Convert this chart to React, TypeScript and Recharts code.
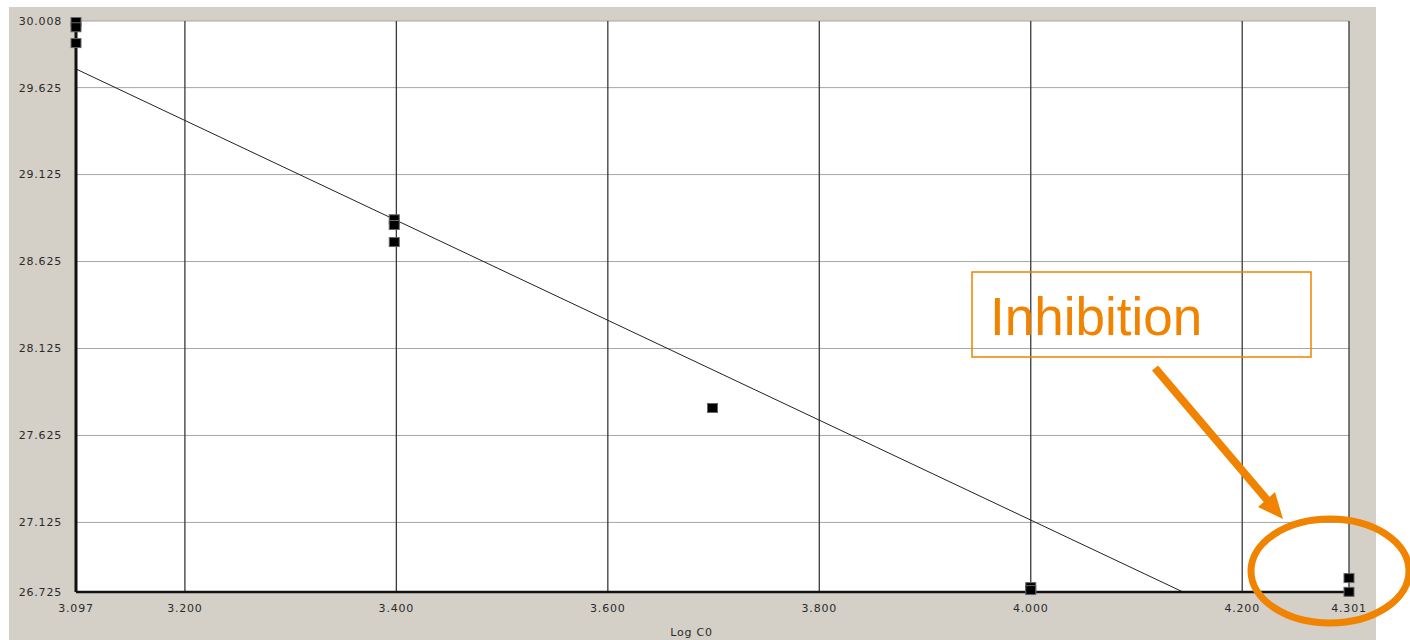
import React from "react";
import {
  ScatterChart,
  Scatter,
  XAxis,
  YAxis,
  CartesianGrid,
  ReferenceLine,
  Label,
} from "recharts";

// ---- data ----
const logC0 = [3.097, 3.097, 3.097, 3.398, 3.398, 3.398, 3.699, 4.0, 4.0, 4.301, 4.301];
const ctValues = [30.002, 29.972, 29.881, 28.868, 28.835, 28.737, 27.783, 26.753, 26.736, 26.805, 26.726];

// fitted standard curve, start and end (clipped at the bottom of the axis)
const fitX = [3.097, 4.144];
const fitY = [29.732, 26.725];

const xTicks = [3.097, 3.2, 3.4, 3.6, 3.8, 4.0, 4.2, 4.301];
const yTicks = [30.008, 29.625, 29.125, 28.625, 28.125, 27.625, 27.125, 26.725];

const points = logC0.map((x, i) => ({ x, y: ctValues[i] }));

const ORANGE = "#f08300";
const PANEL = "#d4d0c8";

const tickStyle = {
  fill: "#2a2a2a",
  fontSize: 11,
  fontFamily: "DejaVu Sans",
  letterSpacing: 0.8,
};

// small black square marker
const SquareDot = (props: any) => {
  const { cx, cy } = props;
  if (cx == null || cy == null) return null;
  return <rect x={cx - 5} y={cy - 4.5} width={10} height={9} fill="#000" stroke="#666" strokeWidth={1} />;
};

const App: React.FC = () => {
  return (
    <div style={{ position: "absolute", left: 0, top: 0, width: 1410, height: 640, background: "#fff", overflow: "hidden" }}>
      <div style={{ position: "absolute", left: 9, top: 7, width: 1367, height: 633, background: PANEL }} />
      <div style={{ position: "absolute", left: 0, top: 0 }}>
        <ScatterChart width={1410} height={640} margin={{ top: 21, right: 61, left: 16, bottom: 18 }}>
          <CartesianGrid fill="#fff" vertical={false} stroke="#a6a6a6" strokeWidth={1} />
          <CartesianGrid horizontal={false} stroke="#3a3a3a" strokeWidth={1.3} />
          <XAxis
            type="number"
            dataKey="x"
            domain={[3.097, 4.301]}
            ticks={xTicks}
            tickFormatter={(v: number) => v.toFixed(3)}
            interval={0}
            height={30}
            tickLine={false}
            tickSize={0}
            tickMargin={12}
            axisLine={{ stroke: "#111", strokeWidth: 2.5 }}
            tick={tickStyle}
          >
            <Label
              value="Log C0"
              position="bottom"
              offset={6}
              dx={-21}
              style={{ fill: "#2a2a2a", fontSize: 11, fontFamily: "DejaVu Sans", letterSpacing: 0.8 }}
            />
          </XAxis>
          <YAxis
            type="number"
            dataKey="y"
            domain={[26.725, 30.008]}
            ticks={yTicks}
            tickFormatter={(v: number) => v.toFixed(3)}
            interval={0}
            width={60}
            tickLine={false}
            tickSize={0}
            tickMargin={14}
            axisLine={{ stroke: "#111", strokeWidth: 3 }}
            tick={tickStyle}
          />
          <ReferenceLine
            segment={[
              { x: fitX[0], y: fitY[0] },
              { x: fitX[1], y: fitY[1] },
            ]}
            stroke="#222"
            strokeWidth={1}
          />
          <Scatter data={points} shape={<SquareDot />} isAnimationActive={false} />
        </ScatterChart>
      </div>
      <svg width={1410} height={640} style={{ position: "absolute", left: 0, top: 0, pointerEvents: "none" }}>
        <rect x={972} y={272} width={339} height={85} fill="none" stroke={ORANGE} strokeWidth={1.5} />
        <text x={990} y={335} fill={ORANGE} fontSize={53} fontFamily="Liberation Sans, Arial, sans-serif">
          Inhibition
        </text>
        <line x1={1155} y1={368} x2={1268} y2={501} stroke={ORANGE} strokeWidth={8} />
        <polygon points="1283,519 1258,507 1275,492" fill={ORANGE} />
        <ellipse cx={1330} cy={571} rx={79} ry={52} fill="none" stroke={ORANGE} strokeWidth={7} />
      </svg>
    </div>
  );
};

export default App;
